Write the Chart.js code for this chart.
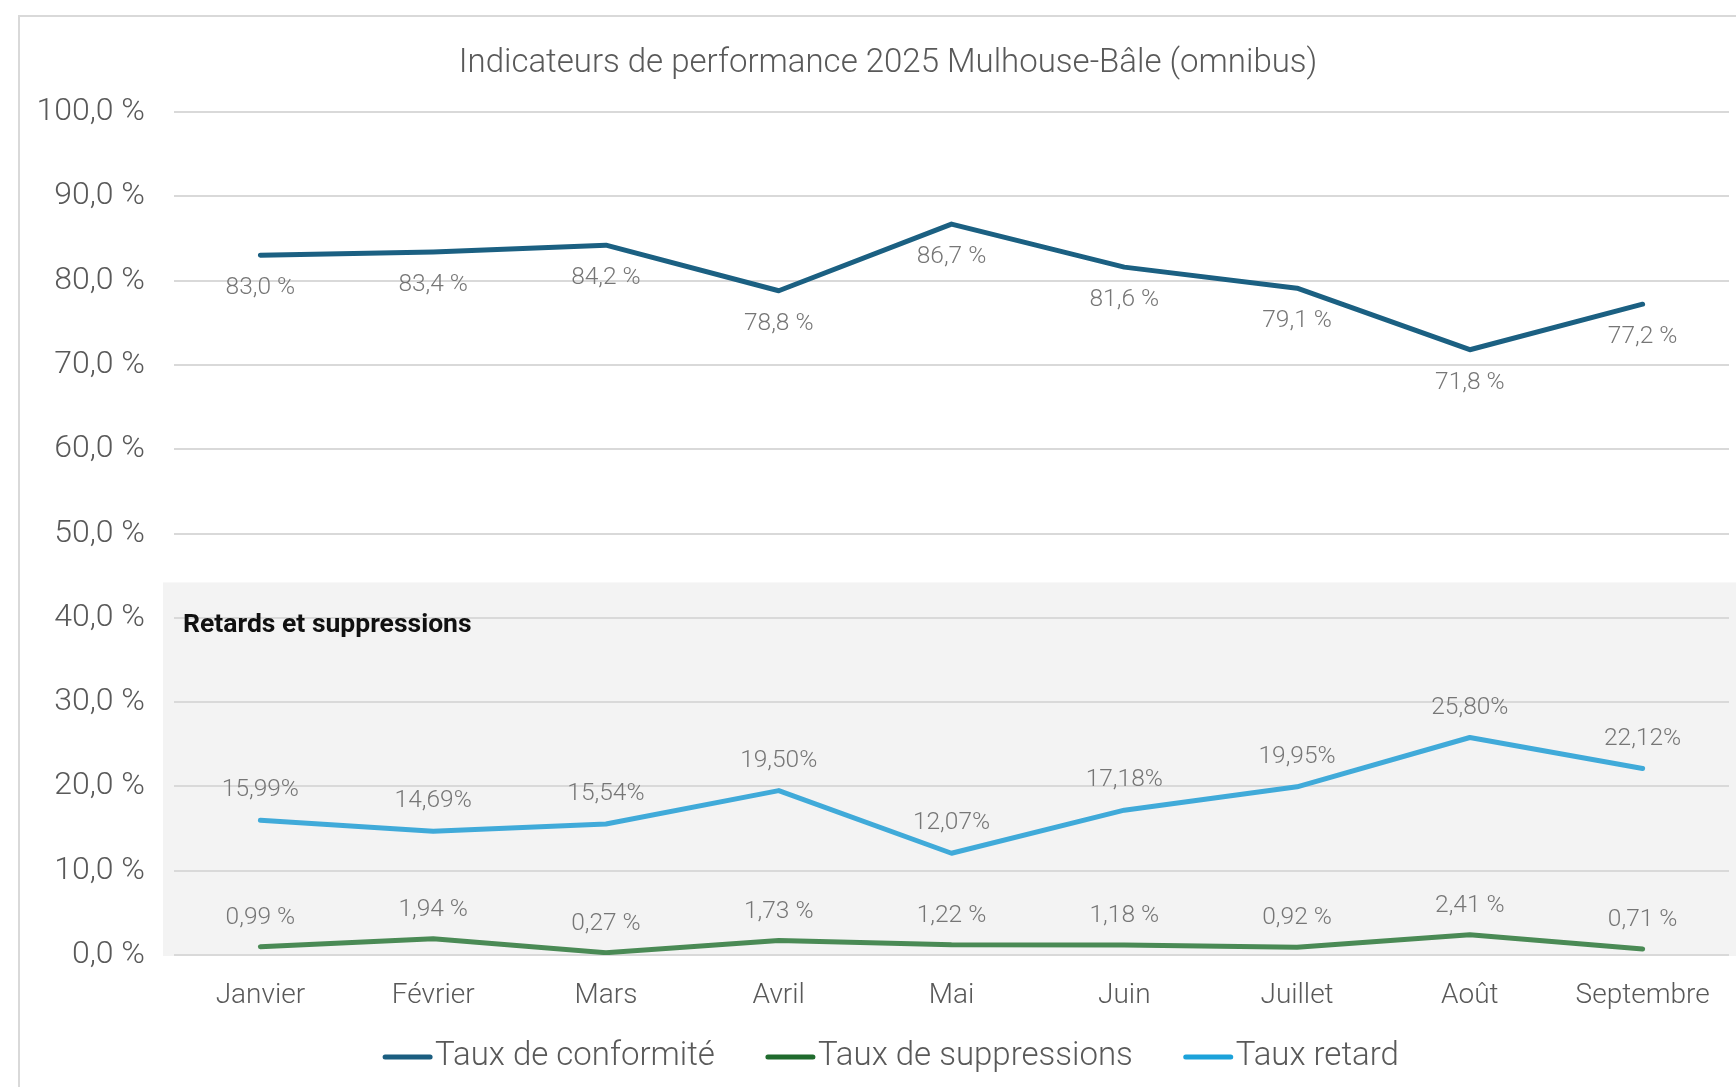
<!DOCTYPE html>
<html lang="fr">
<head>
<meta charset="utf-8">
<title>Indicateurs de performance 2025 Mulhouse-Bâle (omnibus)</title>
<script src="https://cdn.jsdelivr.net/npm/chart.js@4/dist/chart.umd.min.js"></script>
<style>
  html, body { margin: 0; padding: 0; background: #ffffff; overflow: hidden; }
  #chart { display: block; }
</style>
</head>
<body>
<canvas id="chart" width="1736" height="1087"></canvas>
<script>
// Data
const mois = ['Janvier', 'Février', 'Mars', 'Avril', 'Mai', 'Juin', 'Juillet', 'Août', 'Septembre'];
const tauxConformite = [83.0, 83.4, 84.2, 78.8, 86.7, 81.6, 79.1, 71.8, 77.2];
const tauxSuppressions = [0.99, 1.94, 0.27, 1.73, 1.22, 1.18, 0.92, 2.41, 0.71];
const tauxRetard = [15.99, 14.69, 15.54, 19.50, 12.07, 17.18, 19.95, 25.80, 22.12];

const TITRE = 'Indicateurs de performance 2025 Mulhouse-Bâle (omnibus)';
const FONT = 'Roboto, "Liberation Sans", sans-serif';
const GREY_TEXT = '#595959';

function virgule(v, d) {
    return v.toFixed(d).replace('.', ',');
}

// frame, title and light grey panel, drawn before the grid
const panelPlugin = {
    id: 'panel',
    beforeDraw(chart) {
        const ctx = chart.ctx;
        const y = chart.scales.y;
        const area = chart.chartArea;
        ctx.save();
        // outer frame (only left/top edges are visible in the picture)
        ctx.strokeStyle = '#d9d9d9';
        ctx.lineWidth = 2;
        ctx.strokeRect(19, 16, chart.width + 40, chart.height + 40);
        // title, a bit right of the canvas centre like the original
        ctx.font = '300 33px ' + FONT;
        ctx.fillStyle = GREY_TEXT;
        ctx.textAlign = 'center';
        ctx.textBaseline = 'middle';
        ctx.fillText(TITRE, chart.width / 2 + 20, 63.5);
        // "Retards et suppressions" panel
        const top = y.getPixelForValue(44.2);
        const bottom = y.getPixelForValue(0) + 1;
        ctx.fillStyle = '#f3f3f3';
        ctx.fillRect(area.left - 11, top, chart.width - area.left + 11, bottom - top);
        ctx.restore();
    },
    beforeDatasetsDraw(chart) {
        const ctx = chart.ctx;
        const y = chart.scales.y;
        ctx.save();
        ctx.font = 'bold 26.5px ' + FONT;
        ctx.fillStyle = '#111111';
        ctx.textBaseline = 'middle';
        ctx.fillText('Retards et suppressions', chart.chartArea.left + 9, y.getPixelForValue(44.2) + 43);
        ctx.restore();
    }
};

// value labels next to each point
const valueLabels = {
    id: 'valueLabels',
    afterDatasetsDraw(chart) {
        const ctx = chart.ctx;
        ctx.save();
        ctx.font = '300 24.5px ' + FONT;
        ctx.fillStyle = '#767676';
        ctx.textAlign = 'center';
        ctx.textBaseline = 'middle';
        chart.data.datasets.forEach((ds, i) => {
            const meta = chart.getDatasetMeta(i);
            meta.data.forEach((pt, j) => {
                ctx.fillText(ds.labelFormat(ds.data[j]), pt.x, pt.y + ds.labelOffset);
            });
        });
        ctx.restore();
    }
};

// legend drawn by hand so the text sits right next to the line sample
const legendPlugin = {
    id: 'customLegend',
    afterDraw(chart) {
        const ctx = chart.ctx;
        const sample = 49, gapText = 3, gapItem = 51;
        ctx.save();
        ctx.font = '300 33px ' + FONT;
        ctx.textBaseline = 'middle';
        const items = chart.data.datasets.map(ds => ({
            text: ds.label,
            color: ds.legendColor,
            w: ctx.measureText(ds.label).width
        }));
        let total = 0;
        items.forEach((it, i) => {
            total += sample + gapText + it.w + (i < items.length - 1 ? gapItem : 0);
        });
        let x = chart.width / 2 + 23 - total / 2;
        const yc = 1057;
        items.forEach(it => {
            ctx.strokeStyle = it.color;
            ctx.lineWidth = 5;
            ctx.lineCap = 'round';
            ctx.beginPath();
            ctx.moveTo(x + 2, yc);
            ctx.lineTo(x + sample - 2, yc);
            ctx.stroke();
            ctx.fillStyle = GREY_TEXT;
            ctx.fillText(it.text, x + sample + gapText, yc);
            x += sample + gapText + it.w + gapItem;
        });
        ctx.restore();
    }
};

const ctx = document.getElementById('chart').getContext('2d');

new Chart(ctx, {
    type: 'line',
    data: {
        labels: mois,
        datasets: [
            {
                label: 'Taux de conformité',
                data: tauxConformite,
                borderColor: '#1b6082',
                legendColor: '#1b5e80',
                labelOffset: 33,
                labelFormat: v => virgule(v, 1) + ' %'
            },
            {
                label: 'Taux de suppressions',
                data: tauxSuppressions,
                borderColor: '#4a8a55',
                legendColor: '#1f6b2d',
                labelOffset: -29,
                labelFormat: v => virgule(v, 2) + ' %'
            },
            {
                label: 'Taux retard',
                data: tauxRetard,
                borderColor: '#40aad9',
                legendColor: '#1ca2da',
                labelOffset: -30,
                labelFormat: v => virgule(v, 2) + '%'
            }
        ]
    },
    options: {
        responsive: false,
        animation: false,
        devicePixelRatio: 1,
        layout: {
            padding: { left: 20, right: 7, top: 112, bottom: 75 }
        },
        elements: {
            line: { borderWidth: 5, tension: 0, borderCapStyle: 'round', borderJoinStyle: 'round' },
            point: { radius: 0, hoverRadius: 0 }
        },
        plugins: {
            legend: { display: false },
            tooltip: { enabled: false },
            title: { display: false }
        },
        scales: {
            x: {
                offset: true,
                grid: { display: false, drawTicks: false },
                border: { display: false },
                ticks: {
                    color: GREY_TEXT,
                    font: { family: FONT, size: 28, weight: '300' },
                    padding: 24,
                    maxRotation: 0
                },
                afterFit(scale) { scale.height = 57; }
            },
            y: {
                min: 0,
                max: 100,
                grid: { color: '#d9d9d9', lineWidth: 2, drawTicks: false },
                border: { display: false },
                ticks: {
                    stepSize: 10,
                    color: GREY_TEXT,
                    font: { family: FONT, size: 32, weight: '300' },
                    padding: 29,
                    callback: v => virgule(v, 1) + ' %'
                },
                afterFit(scale) { scale.width = 154; }
            }
        }
    },
    plugins: [panelPlugin, valueLabels, legendPlugin]
});
</script>
</body>
</html>
